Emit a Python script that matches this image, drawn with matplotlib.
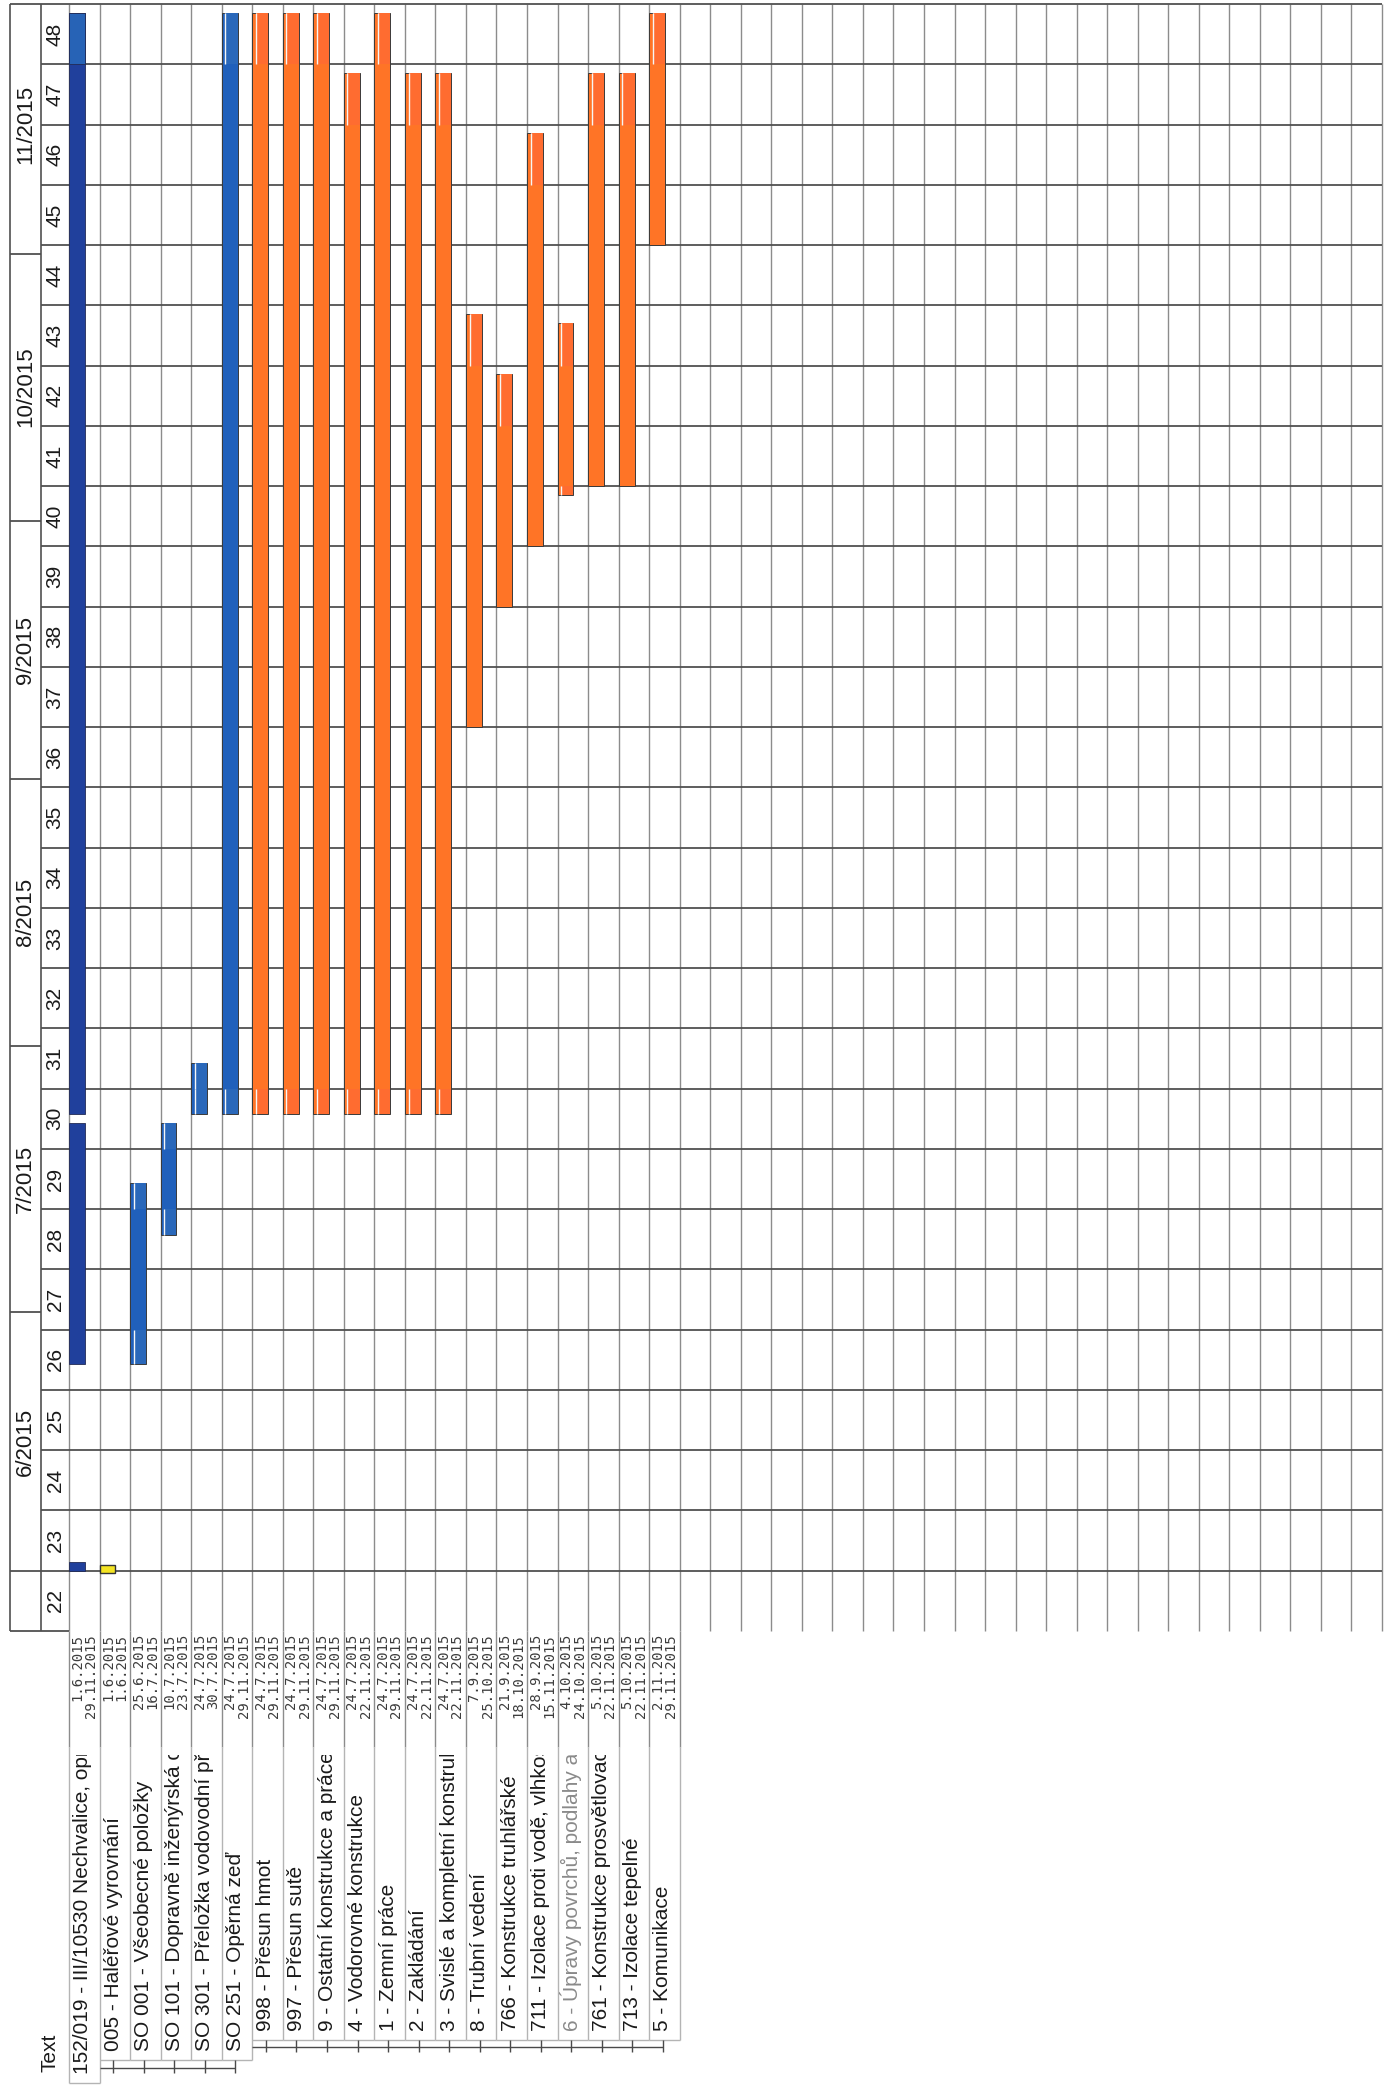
import datetime
import math
import matplotlib
matplotlib.use('Agg')
import matplotlib.pyplot as plt
import matplotlib.dates as mdates

plt.rcParams['font.family'] = ['Liberation Sans', 'DejaVu Sans']

# one column per task (the chart is printed rotated: time runs upward)
# names are cut where the printed cell cuts them off
task_names = [
    '152/019 - III/10530 Nechvalice, oprava',
    '005 - Haléřové vyrovnání',
    'SO 001 - Všeobecné položky',
    'SO 101 - Dopravně inženýrská opa',
    'SO 301 - Přeložka vodovodní přípo',
    'SO 251 - Opěrná zeď',
    '998 - Přesun hmot',
    '997 - Přesun sutě',
    '9 - Ostatní konstrukce a práce',
    '4 - Vodorovné konstrukce',
    '1 - Zemní práce',
    '2 - Zakládání',
    '3 - Svislé a kompletní konstrukce',
    '8 - Trubní vedení',
    '766 - Konstrukce truhlářské',
    '711 - Izolace proti vodě, vlhkosti',
    '6 - Úpravy povrchů, podlahy a o',
    '761 - Konstrukce prosvětlovací',
    '713 - Izolace tepelné',
    '5 - Komunikace',
]
task_levels = [1, 2, 2, 2, 2, 2, 3, 3, 3, 3, 3, 3, 3, 3, 3, 3, 3, 3, 3, 3]
task_kinds = ['summary', 'milestone', 'so', 'so', 'so', 'so'] + ['task'] * 14
start_dates = ['1.6.2015', '1.6.2015', '25.6.2015', '10.7.2015', '24.7.2015',
               '24.7.2015', '24.7.2015', '24.7.2015', '24.7.2015', '24.7.2015',
               '24.7.2015', '24.7.2015', '24.7.2015', '7.9.2015', '21.9.2015',
               '28.9.2015', '4.10.2015', '5.10.2015', '5.10.2015', '2.11.2015']
end_dates = ['29.11.2015', '1.6.2015', '16.7.2015', '23.7.2015', '30.7.2015',
             '29.11.2015', '29.11.2015', '29.11.2015', '29.11.2015', '22.11.2015',
             '29.11.2015', '22.11.2015', '22.11.2015', '25.10.2015', '18.10.2015',
             '15.11.2015', '24.10.2015', '22.11.2015', '22.11.2015', '29.11.2015']

week_numbers = [22, 23, 24, 25, 26, 27, 28, 29, 30, 31, 32, 33, 34, 35,
                36, 37, 38, 39, 40, 41, 42, 43, 44, 45, 46, 47, 48]
month_labels = ['6/2015', '7/2015', '8/2015', '9/2015', '10/2015', '11/2015']
month_starts = ['1.6.2015', '1.7.2015', '1.8.2015', '1.9.2015', '1.10.2015', '1.11.2015', '1.12.2015']
axis_start = '25.5.2015'
axis_end = '30.11.2015'

body_colors = {'summary': '#20409c', 'so': '#2060bb', 'task': '#ff7426', 'milestone': '#f4e423'}
cap_colors = {'summary': '#2763b6', 'so': '#2a68ba', 'task': '#ff6c30'}

# layout in pixels
W, H = 1387, 2089
GRID_L, GRID_R = 69, 1382
GRID_T, GRID_B = 4, 1631
HEAD_L, HEAD_MID = 10, 41
NAME_TOP = 1755
N_COLS = 43
BAR_W = 0.52
cell_bottom = {1: 2083, 2: 2060, 3: 2040}


def box(x0, y0, x1, y1):
    return [x0 / W, 1 - y1 / H, (x1 - x0) / W, (y1 - y0) / H]


def d(s):
    return mdates.date2num(datetime.datetime.strptime(s, '%d.%m.%Y'))


starts = [d(s) for s in start_dates]
ends = [d(s) for s in end_dates]
t0, t1 = d(axis_start), d(axis_end)
mondays = [t0 + 7 * k for k in range(len(week_numbers) + 1)]
mstarts = [d(s) for s in month_starts]

fig = plt.figure(figsize=(W / 100, H / 100), dpi=100)
fig.patch.set_facecolor('white')

# ---- chart grid
ax = fig.add_axes(box(GRID_L, GRID_T, GRID_R, GRID_B))
ax.set_xlim(0, N_COLS)
ax.set_ylim(t0, t1)
ax.axis('off')
ax.vlines(range(N_COLS + 1), t0, t1, colors='#8c8c8c', lw=1.0, zorder=1, clip_on=False)
ax.hlines(mondays[1:], 0, N_COLS, colors='#505050', lw=1.3, zorder=1, clip_on=False)


def cap(i, lo, hi, kind):
    # partial-week piece at a bar end: lighter, inset, white left edge
    ax.bar(i + 0.12, hi - lo, bottom=lo, width=BAR_W - 0.12, align='edge',
           color=cap_colors[kind], lw=0, zorder=3)
    ax.vlines(i + 0.12, lo, hi, colors='#f6f6f6', lw=1.0, zorder=4)


def draw_caps(i, s, e, kind):
    if (s - t0) % 7 > 1e-6:
        cap(i, s, min(t0 + 7 * math.ceil((s - t0) / 7), e), kind)
    if (e - t0) % 7 > 1e-6:
        cap(i, max(t0 + 7 * math.floor((e - t0) / 7), s), e, kind)


# summary bar = union of its children's intervals
child = []
for i, lvl in enumerate(task_levels):
    if lvl == 2:
        child.append((starts[i], max(ends[i], starts[i] + 1)))
child.sort()
segments = [list(child[0])]
for s, e in child[1:]:
    if s <= segments[-1][1]:
        segments[-1][1] = max(segments[-1][1], e)
    else:
        segments.append([s, e])

for i, kind in enumerate(task_kinds):
    if kind == 'summary':
        for s, e in segments:
            ax.bar(i, e - s, bottom=s, width=BAR_W, align='edge', color=body_colors[kind],
                   edgecolor='#222a55', lw=0.6, zorder=2)
        s, e = segments[-1]
        prev = t0 + 7 * math.floor((e - t0) / 7)
        ax.bar(i, e - prev, bottom=prev, width=BAR_W, align='edge', color=cap_colors[kind],
               edgecolor='#222a55', lw=0.6, zorder=3)
        continue
    s, e = starts[i], ends[i]
    if kind == 'milestone':
        ax.bar(i, 1, bottom=s - 0.3, width=BAR_W, align='edge', color=body_colors[kind],
               edgecolor='#333333', lw=1.0, zorder=3)
        continue
    ax.bar(i, e - s, bottom=s, width=BAR_W, align='edge', color=body_colors[kind],
           edgecolor='#3a3a3a', lw=0.7, zorder=2)
    draw_caps(i, s, e, kind)

# ---- left header (months / week numbers)
axh = fig.add_axes(box(HEAD_L, GRID_T, GRID_L, GRID_B))
axh.set_xlim(HEAD_L, GRID_L)
axh.set_ylim(t0, t1)
axh.axis('off')
axh.hlines(mondays, HEAD_MID, GRID_L, colors='#505050', lw=1.3, clip_on=False)
axh.hlines(mstarts[:-1] + [t0, t1], HEAD_L, HEAD_MID, colors='#505050', lw=1.3, clip_on=False)
axh.vlines([HEAD_L, HEAD_MID], t0, t1, colors='#505050', lw=1.2, clip_on=False)
for k, wk in enumerate(week_numbers):
    axh.text(55, (mondays[k] + mondays[k + 1]) / 2, str(wk), rotation=90, ha='center',
             va='center', fontsize=15, color='#1a1a1a')
for k, lab in enumerate(month_labels):
    axh.text(25.5, (mstarts[k] + mstarts[k + 1]) / 2, lab, rotation=90, ha='center',
             va='center', fontsize=16, color='#1a1a1a')

# ---- table under the chart (dates + task names)
axt = fig.add_axes(box(GRID_L, GRID_B, GRID_R, H))
axt.set_xlim(0, N_COLS)
axt.set_ylim(H, GRID_B)
axt.axis('off')
n = len(task_names)
for j in range(n + 1):
    bot = max(cell_bottom[task_levels[k]] for k in (j - 1, j) if 0 <= k < n)
    axt.vlines(j, GRID_B, NAME_TOP - 8, colors='#8c8c8c', lw=1.0, clip_on=False)
    axt.vlines(j, NAME_TOP - 8, bot, colors='#b4b4b4', lw=1.0, clip_on=False)
for i, lvl in enumerate(task_levels):
    axt.hlines(cell_bottom[lvl], i, i + 1, colors='#b4b4b4', lw=1.0, clip_on=False)
    axt.text(i + 0.5, GRID_B + 3, start_dates[i] + '\n' + end_dates[i], rotation=90,
             rotation_mode='anchor', ha='right', va='center', multialignment='right',
             linespacing=0.95, fontsize=10, family='DejaVu Sans Mono', color='#3c3c3c')

# outline brackets
for lvl, yline in ((2, 2068), (3, 2047)):
    cols = [i for i, l in enumerate(task_levels) if l == lvl]
    axt.hlines(yline, cols[0], cols[-1] + 0.45, colors='#4a4a4a', lw=1.0, clip_on=False)
    axt.vlines([c + 0.45 for c in cols], cell_bottom[lvl], yline + 5, colors='#4a4a4a',
               lw=1.0, clip_on=False)

axt.text((50 - GRID_L) / ((GRID_R - GRID_L) / N_COLS), 2072, 'Text', rotation=90,
         rotation_mode='anchor', ha='left', va='center', fontsize=15, color='#1a1a1a',
         clip_on=False)

axn = fig.add_axes(box(GRID_L, NAME_TOP, GRID_R, H))
axn.set_xlim(0, N_COLS)
axn.set_ylim(H, NAME_TOP)
axn.axis('off')
for i, name in enumerate(task_names):
    col = '#8a8a8a' if name.startswith('6 -') else '#1a1a1a'
    axn.text(i + 0.45, cell_bottom[task_levels[i]] - 9, name, rotation=90,
             rotation_mode='anchor', ha='left', va='center', fontsize=15, color=col,
             clip_on=True)

fig.savefig('out.png', dpi=100)
